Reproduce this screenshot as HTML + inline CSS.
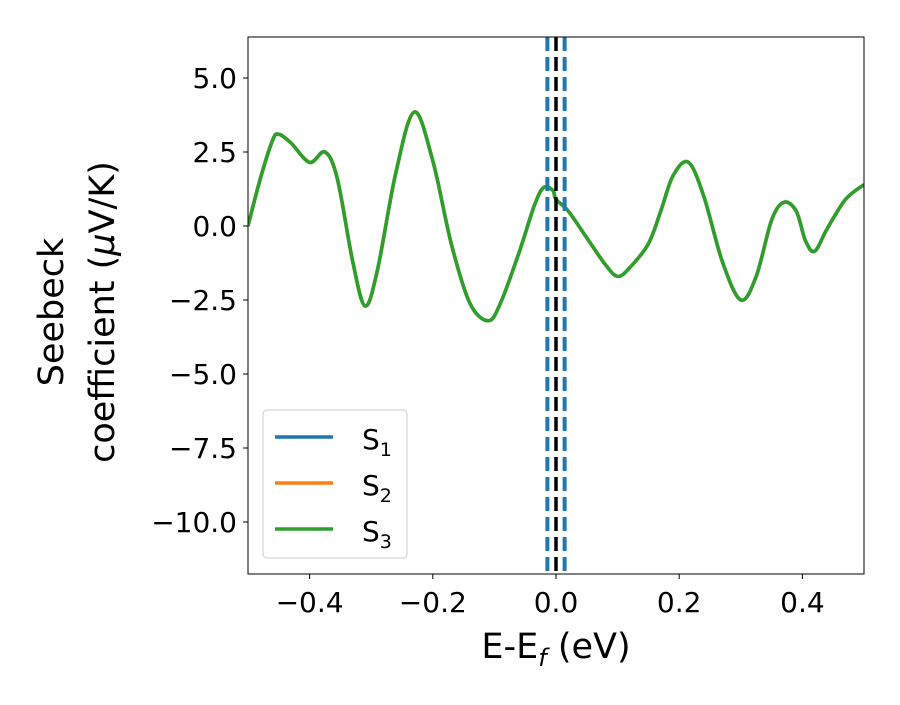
<!DOCTYPE html>
<html><head><meta charset="utf-8"><style>
body{margin:0;background:#fff;}
svg text{font-family:"DejaVu Sans","Liberation Sans",sans-serif;fill:#000;}
</style></head><body>
<svg id="chart" width="900" height="700" xmlns="http://www.w3.org/2000/svg">
<g id="plot"></g>
</svg>
<script>
const xs=[-0.5,-0.48,-0.46,-0.45,-0.43,-0.40,-0.375,-0.355,-0.33,-0.31,-0.29,-0.26,-0.23,-0.20,-0.17,-0.14,-0.11,-0.09,-0.06,-0.035,-0.02,-0.005,0.0,0.02,0.05,0.08,0.1,0.12,0.15,0.17,0.19,0.215,0.24,0.27,0.30,0.325,0.35,0.37,0.39,0.405,0.42,0.44,0.47,0.5];
const s1=[0.0,1.6,2.9,3.1,2.8,2.15,2.5,1.6,-1.2,-2.7,-1.5,1.8,3.85,2.2,-0.6,-2.6,-3.2,-2.6,-0.9,0.7,1.3,1.2,0.9,0.5,-0.4,-1.3,-1.7,-1.4,-0.6,0.5,1.7,2.15,1.0,-1.2,-2.5,-1.7,0.2,0.8,0.5,-0.5,-0.85,-0.1,0.9,1.4];
const s2=s1.slice();
const s3=s1.slice();
const xTicks=[-0.4,-0.2,0.0,0.2,0.4];
const xTickLabels=["\u22120.4","\u22120.2","0.0","0.2","0.4"];
const yTicks=[5.0,2.5,0.0,-2.5,-5.0,-7.5,-10.0];
const yTickLabels=["5.0","2.5","0.0","\u22122.5","\u22125.0","\u22127.5","\u221210.0"];
const vlinesBlue=[-0.014,0.014];
const vlineBlack=[0.0];
const L=248,R=864,T=37,B=574;
const X=v=>L+(v+0.5)*(R-L);
const Y=v=>226-v*29.6;
const g=document.getElementById('plot');
const NS='http://www.w3.org/2000/svg';
function mk(t,a){const e=document.createElementNS(NS,t);for(const k in a)e.setAttribute(k,a[k]);g.appendChild(e);return e;}
function pathFor(vals){
  const p=xs.map((x,i)=>[X(x),Y(vals[i])]);
  let d='M'+p[0][0]+','+p[0][1];
  for(let i=0;i<p.length-1;i++){
    const p0=p[Math.max(0,i-1)],p1=p[i],p2=p[i+1],p3=p[Math.min(p.length-1,i+2)];
    const c1=[p1[0]+(p2[0]-p0[0])/6,p1[1]+(p2[1]-p0[1])/6];
    const c2=[p2[0]-(p3[0]-p1[0])/6,p2[1]-(p3[1]-p1[1])/6];
    d+=' C'+c1+' '+c2+' '+p2;
  }
  return d;
}
const cp=document.createElementNS(NS,'clipPath');cp.setAttribute('id','clip');
const cr=document.createElementNS(NS,'rect');cr.setAttribute('x',L);cr.setAttribute('y',T);cr.setAttribute('width',R-L);cr.setAttribute('height',B-T);
cp.appendChild(cr);g.appendChild(cp);
[[s1,'#1f77b4','series-s1'],[s2,'#ff7f0e','series-s2'],[s3,'#2ca02c','series-s3']].forEach(([v,c,n])=>{
  const e=mk('path',{d:pathFor(v),fill:'none',stroke:c,'stroke-width':3.5,'clip-path':'url(#clip)'});
  
  
});
vlinesBlue.forEach(v=>{
  const e=mk('line',{x1:X(v),x2:X(v),y1:T,y2:B,stroke:'#1f77b4','stroke-width':4,'stroke-dasharray':'14,6'});
  
  
});
vlineBlack.forEach(v=>{
  const e=mk('line',{x1:X(v),x2:X(v),y1:T,y2:B,stroke:'#000','stroke-width':3.5,'stroke-dasharray':'14,6'});
  
  
});
const fr=mk('rect',{x:L,y:T,width:R-L,height:B-T,fill:'none',stroke:'#000','stroke-width':1});


xTicks.forEach((v,i)=>{
  mk('line',{x1:X(v),x2:X(v),y1:B,y2:B+5,stroke:'#000','stroke-width':1});
  const t=mk('text',{x:X(v),y:B+38,'text-anchor':'middle','font-size':28});
  t.textContent=xTickLabels[i];
  
  
});
yTicks.forEach((v,i)=>{
  mk('line',{x1:L-5,x2:L,y1:Y(v),y2:Y(v),stroke:'#000','stroke-width':1});
  const t=mk('text',{x:L-11,y:Y(v)+10,'text-anchor':'end','font-size':28});
  t.textContent=yTickLabels[i];
  
  
});
</script>
<svg style="position:absolute;left:0;top:0" width="900" height="700" xmlns="http://www.w3.org/2000/svg">
<text x="556" y="658" text-anchor="middle" font-size="35">E-E<tspan font-size="24" dy="8" font-style="italic">f</tspan><tspan dy="-8"> (eV)</tspan></text>
<g transform="translate(63,312) rotate(-90)">
<text x="0" y="0" text-anchor="middle" font-size="35">Seebeck</text>
<text x="0" y="51" text-anchor="middle" font-size="35">coefficient  (<tspan font-style="italic">μ</tspan>V/K)</text>
</g>
<g>
<rect x="263" y="410" width="144" height="148" rx="4" fill="#fff" fill-opacity="0.8" stroke="#ccc"/>
<g><line x1="275" x2="333" y1="437" y2="437" stroke="#1f77b4" stroke-width="3.5"/><text x="362" y="449" font-size="28">S<tspan font-size="19" dy="7">1</tspan></text></g>
<g><line x1="275" x2="333" y1="483" y2="483" stroke="#ff7f0e" stroke-width="3.5"/><text x="362" y="495" font-size="28">S<tspan font-size="19" dy="7">2</tspan></text></g>
<g><line x1="275" x2="333" y1="529" y2="529" stroke="#2ca02c" stroke-width="3.5"/><text x="362" y="541" font-size="28">S<tspan font-size="19" dy="7">3</tspan></text></g>
</g>
</svg>
</body></html>
